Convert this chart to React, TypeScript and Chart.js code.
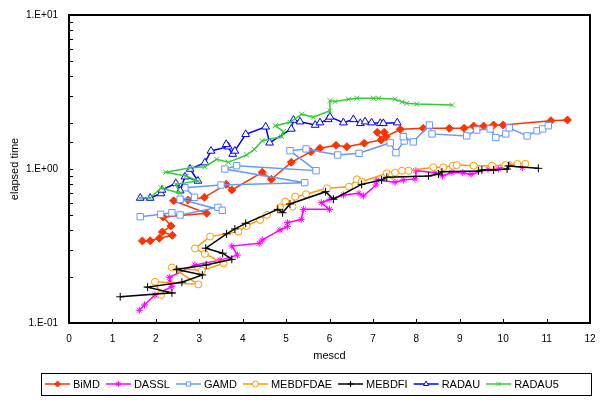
import React, { useEffect, useRef } from 'react';
import { Chart, registerables } from 'chart.js';

Chart.register(...registerables);

const seriesNames = ['BiMD', 'DASSL', 'GAMD', 'MEBDFDAE', 'MEBDFI', 'RADAU', 'RADAU5'];
const seriesColors = ['#FF3300', '#FF00FF', '#6699FF', '#FF9900', '#000000', '#0000FF', '#33CC33'];
const seriesMarkers = ['rectRot', 'star', 'rect', 'circle', 'cross', 'triangle', 'crossRot'];

const bimdX = [1.69, 1.87, 2.08, 2.38, 2.15, 2.35, 2.17, 3.17, 2.41, 2.74, 3.12, 3.62, 3.75, 4.45, 4.66, 5.12, 5.57, 5.78, 6.15, 6.40, 6.80, 7.19, 7.10, 7.26, 7.30, 7.63, 8.16, 8.76, 9.10, 9.32, 9.55, 9.78, 10.0, 11.1, 11.48];
const bimdY = [0.341, 0.342, 0.355, 0.371, 0.39, 0.427, 0.488, 0.516, 0.622, 0.629, 0.655, 0.795, 0.731, 0.952, 0.857, 1.105, 1.295, 1.362, 1.425, 1.396, 1.468, 1.543, 1.731, 1.73, 1.62, 1.81, 1.837, 1.837, 1.84, 1.90, 1.90, 1.93, 1.93, 2.06, 2.08];

const dasslX = [1.62, 1.74, 1.98, 2.37, 2.33, 2.31, 2.90, 3.48, 3.88, 3.75, 4.38, 4.45, 4.86, 5.03, 5.03, 5.35, 5.40, 6.00, 5.81, 6.01, 6.32, 6.68, 6.78, 7.07, 7.09, 7.51, 7.70, 7.97, 7.99, 8.43, 8.60, 8.82, 9.07, 9.26, 9.65, 9.89, 10.14, 10.44];
const dasslY = [0.121, 0.131, 0.152, 0.172, 0.184, 0.198, 0.238, 0.256, 0.276, 0.316, 0.329, 0.346, 0.402, 0.422, 0.448, 0.471, 0.547, 0.547, 0.604, 0.636, 0.678, 0.695, 0.668, 0.787, 0.848, 0.82, 0.848, 0.861, 0.975, 0.946, 0.901, 0.949, 0.946, 0.924, 0.995, 1.0, 1.07, 1.02];

const gamdX = [1.64, 2.11, 2.37, 2.56, 3.43, 3.53, 2.56, 2.89, 2.67, 3.50, 5.43, 3.59, 3.86, 5.69, 5.09, 5.46, 6.19, 6.68, 7.40, 7.53, 7.72, 7.70, 7.93, 8.30, 8.36, 9.16, 9.39, 9.70, 9.83, 10.06, 10.14, 10.55, 10.78, 10.91, 11.04];
const gamdY = [0.49, 0.508, 0.52, 0.503, 0.564, 0.539, 0.636, 0.655, 0.756, 0.787, 0.815, 1.0, 1.05, 0.975, 1.315, 1.35, 1.233, 1.264, 1.48, 1.276, 1.52, 1.62, 1.50, 1.93, 1.69, 1.64, 1.79, 1.82, 1.60, 1.69, 1.85, 1.64, 1.77, 1.82, 1.91];

const mebdfdaeX = [2.12, 1.98, 2.98, 2.37, 3.06, 3.56, 3.13, 2.90, 3.25, 3.90, 4.09, 4.40, 4.56, 4.86, 4.98, 5.15, 5.21, 5.46, 5.94, 6.45, 6.63, 6.74, 7.32, 7.44, 7.51, 7.67, 7.82, 8.39, 8.62, 8.84, 8.93, 9.32, 9.74, 10.05, 10.33, 10.51];
const mebdfdaeY = [0.152, 0.185, 0.178, 0.229, 0.219, 0.244, 0.281, 0.305, 0.364, 0.392, 0.427, 0.467, 0.503, 0.564, 0.614, 0.569, 0.661, 0.685, 0.749, 0.767, 0.857, 0.827, 0.938, 0.914, 0.946, 0.975, 0.975, 1.026, 1.026, 1.05, 1.06, 1.05, 1.05, 1.06, 1.078, 1.08];

const mebdfiX = [1.18, 2.37, 1.81, 2.60, 3.07, 2.48, 3.16, 3.75, 3.54, 3.15, 3.63, 3.82, 4.07, 4.81, 4.92, 5.09, 5.91, 6.09, 6.74, 7.20, 7.32, 8.28, 8.51, 8.59, 9.43, 9.51, 9.78, 10.09, 10.12, 10.81];
const mebdfiY = [0.148, 0.157, 0.171, 0.184, 0.205, 0.223, 0.238, 0.259, 0.284, 0.306, 0.379, 0.408, 0.444, 0.547, 0.52, 0.593, 0.712, 0.636, 0.795, 0.848, 0.883, 0.901, 0.928, 0.96, 0.97, 0.985, 0.985, 1.0, 1.046, 1.01];

const radauX = [1.64, 1.87, 2.12, 2.14, 2.46, 2.56, 2.67, 2.97, 2.79, 3.13, 3.27, 3.67, 3.62, 3.77, 3.82, 4.07, 4.53, 4.62, 5.12, 5.17, 5.32, 5.67, 5.78, 5.97, 6.01, 6.32, 6.55, 6.71, 6.82, 6.97, 7.17, 7.24, 7.56];
const radauY = [0.648, 0.648, 0.693, 0.731, 0.807, 0.723, 0.891, 0.836, 1.0, 1.099, 1.309, 1.396, 1.446, 1.25, 1.31, 1.68, 1.88, 1.48, 1.82, 2.08, 2.03, 1.93, 2.0, 2.10, 2.18, 2.0, 2.10, 1.98, 2.03, 2.0, 1.98, 1.98, 2.0];

const radau5X = [1.64, 1.87, 2.12, 2.56, 2.46, 2.97, 2.70, 2.23, 2.80, 3.13, 3.40, 3.67, 4.09, 4.27, 4.45, 4.90, 4.94, 4.75, 5.09, 5.36, 5.63, 6.01, 6.01, 6.13, 6.44, 6.63, 7.01, 7.13, 7.51, 7.67, 7.78, 8.01, 8.83];
const radau5Y = [0.651, 0.651, 0.753, 0.695, 0.796, 0.836, 0.901, 0.952, 1.02, 1.035, 1.156, 1.105, 1.233, 1.342, 1.527, 1.62, 1.746, 1.91, 2.01, 2.27, 2.17, 2.39, 2.78, 2.74, 2.84, 2.88, 2.88, 2.88, 2.84, 2.73, 2.67, 2.64, 2.60];

const xTickMin = 0;
const xTickMax = 12;
const yMin = 0.1;
const yMax = 10;
const xTitle = 'mescd';
const yTitle = 'elapsed time';

const seriesX = [bimdX, dasslX, gamdX, mebdfdaeX, mebdfiX, radauX, radau5X];
const seriesY = [bimdY, dasslY, gamdY, mebdfdaeY, mebdfiY, radauY, radau5Y];

const FONT = '"Liberation Sans", Arial, sans-serif';

function drawMarker(ctx: CanvasRenderingContext2D, style: string, x: number, y: number, r: number, color: string) {
  ctx.save();
  ctx.strokeStyle = color;
  ctx.fillStyle = '#ffffff';
  ctx.lineWidth = 1;
  ctx.beginPath();
  switch (style) {
    case 'rectRot':
      ctx.fillStyle = color;
      ctx.moveTo(x - r, y); ctx.lineTo(x, y - r); ctx.lineTo(x + r, y); ctx.lineTo(x, y + r); ctx.closePath();
      ctx.fill(); ctx.stroke();
      break;
    case 'rect': {
      const s = r * Math.SQRT1_2;
      ctx.rect(x - s, y - s, 2 * s, 2 * s); ctx.fill(); ctx.stroke();
      break;
    }
    case 'circle':
      ctx.arc(x, y, r, 0, Math.PI * 2); ctx.fill(); ctx.stroke();
      break;
    case 'triangle':
      ctx.moveTo(x, y - r);
      ctx.lineTo(x + r * Math.sin(2 * Math.PI / 3), y - r * Math.cos(2 * Math.PI / 3));
      ctx.lineTo(x + r * Math.sin(4 * Math.PI / 3), y - r * Math.cos(4 * Math.PI / 3));
      ctx.closePath(); ctx.fill(); ctx.stroke();
      break;
    case 'cross':
      ctx.moveTo(x - r, y); ctx.lineTo(x + r, y); ctx.moveTo(x, y - r); ctx.lineTo(x, y + r); ctx.stroke();
      break;
    case 'crossRot': {
      const d = r * Math.SQRT1_2;
      ctx.moveTo(x - d, y - d); ctx.lineTo(x + d, y + d); ctx.moveTo(x + d, y - d); ctx.lineTo(x - d, y + d); ctx.stroke();
      break;
    }
    case 'star': {
      const d = r * Math.SQRT1_2;
      ctx.moveTo(x - r, y); ctx.lineTo(x + r, y); ctx.moveTo(x, y - r); ctx.lineTo(x, y + r);
      ctx.moveTo(x - d, y - d); ctx.lineTo(x + d, y + d); ctx.moveTo(x + d, y - d); ctx.lineTo(x - d, y + d); ctx.stroke();
      break;
    }
  }
  ctx.restore();
}

const framePlugin = {
  id: 'excelFrame',
  afterDraw(chart: any) {
    const { ctx, chartArea: a, scales } = chart;
    ctx.save();
    ctx.strokeStyle = '#000';
    ctx.lineWidth = 1;
    const xs = scales.x;
    xs.ticks.forEach((t: any) => {
      const px = Math.round(xs.getPixelForValue(t.value)) + 0.5;
      ctx.beginPath(); ctx.moveTo(px, a.bottom); ctx.lineTo(px, a.bottom - 4); ctx.stroke();
    });
    const ys = scales.y;
    ys.ticks.forEach((t: any) => {
      const py = Math.round(ys.getPixelForValue(t.value)) + 0.5;
      ctx.beginPath(); ctx.moveTo(a.left, py); ctx.lineTo(a.left + 4, py); ctx.stroke();
    });
    ctx.lineWidth = 2;
    ctx.strokeRect(a.left, a.top, a.right - a.left, a.bottom - a.top);

    // legend
    const ly = 384;
    let lx = 45;
    ctx.font = '11px ' + FONT;
    ctx.textBaseline = 'middle';
    ctx.textAlign = 'left';
    seriesNames.forEach((name, i) => {
      ctx.strokeStyle = seriesColors[i];
      ctx.lineWidth = 1.5;
      ctx.beginPath(); ctx.moveTo(lx, ly); ctx.lineTo(lx + 25, ly); ctx.stroke();
      drawMarker(ctx, seriesMarkers[i], lx + 12.5, ly, 3, seriesColors[i]);
      ctx.fillStyle = '#000';
      ctx.fillText(name, lx + 28, ly + 0.5);
      lx += 28 + ctx.measureText(name).width + 6;
    });
    ctx.strokeStyle = '#000';
    ctx.lineWidth = 1;
    ctx.strokeRect(41.5, 373.5, 550, 22);
    ctx.restore();
  },
};

function formatExp(v: number): string {
  const e = Math.round(Math.log10(v));
  if (Math.abs(Math.log10(v) - e) > 1e-6) return '';
  const sign = e < 0 ? '-' : '+';
  const abs = Math.abs(e);
  return '1.E' + sign + (abs < 10 ? '0' + abs : String(abs));
}

export default function App() {
  const ref = useRef<HTMLCanvasElement | null>(null);
  useEffect(() => {
    document.body.style.margin = '0';
    const canvas = ref.current;
    if (!canvas) return;
    const radii = [4, 3.5, 4.5, 3.5, 4, 4.5, 3.5];
    const datasets = seriesNames.map((name, i) => ({
      label: name,
      data: seriesX[i].map((x, j) => ({ x, y: seriesY[i][j] })),
      showLine: true,
      borderColor: seriesColors[i],
      backgroundColor: seriesColors[i],
      borderWidth: 1.5,
      pointStyle: seriesMarkers[i],
      pointRadius: radii[i],
      pointBorderWidth: 1,
      pointBorderColor: seriesColors[i],
      pointBackgroundColor: i === 0 ? seriesColors[i] : '#ffffff',
      order: seriesNames.length - i,
      tension: 0,
    }));
    const chart = new Chart(canvas, {
      type: 'scatter',
      data: { datasets },
      options: {
        animation: false,
        responsive: false,
        devicePixelRatio: 1,
        layout: { padding: { top: 15, right: 13, bottom: 45, left: 0 } },
        plugins: { legend: { display: false }, tooltip: { enabled: false } },
        scales: {
          x: {
            type: 'linear',
            min: xTickMin,
            max: xTickMax,
            ticks: { stepSize: 1, color: '#000', font: { family: FONT, size: 10 }, padding: 2, maxRotation: 0 },
            grid: { display: true, drawOnChartArea: false, drawTicks: true, tickLength: 8, color: 'rgba(0,0,0,0)' },
            border: { display: false },
            title: { display: true, text: xTitle, color: '#000', font: { family: FONT, size: 11 }, padding: { top: 0, bottom: 2 } },
            afterFit: (s: any) => { s.height = 42; },
          },
          y: {
            type: 'logarithmic',
            min: yMin,
            max: yMax,
            ticks: { color: '#000', font: { family: FONT, size: 10 }, autoSkip: false, padding: 3, callback: (v: any) => formatExp(Number(v)) },
            grid: { display: true, drawOnChartArea: false, drawTicks: true, tickLength: 8, color: 'rgba(0,0,0,0)' },
            border: { display: false },
            title: { display: true, text: yTitle, color: '#000', font: { family: FONT, size: 11 }, padding: { top: 8, bottom: 0 } },
            afterFit: (s: any) => { s.width = 69; },
          },
        },
      },
      plugins: [framePlugin],
    } as any);
    return () => chart.destroy();
  }, []);
  return (
    <div style={{ width: 603, height: 410, background: '#fff' }}>
      <canvas ref={ref} width={603} height={410} style={{ display: 'block' }} />
    </div>
  );
}
